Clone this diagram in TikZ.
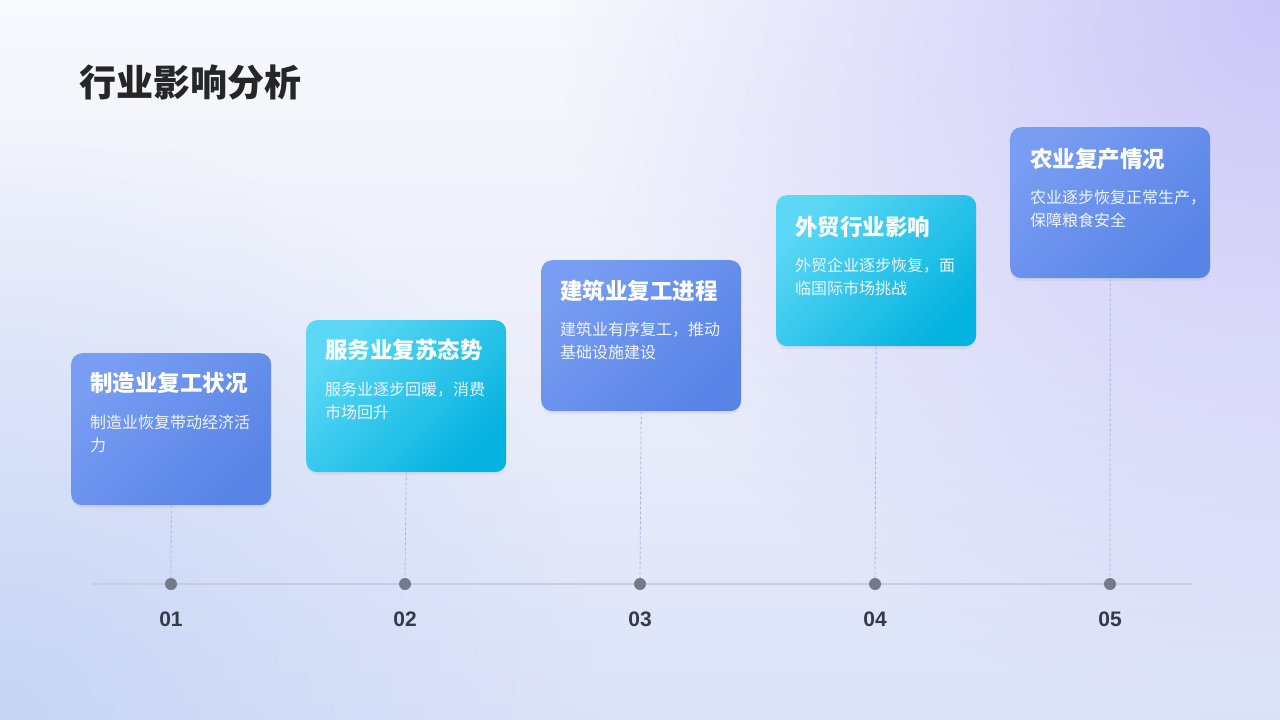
\documentclass[tikz,border=0pt]{standalone}
\usepackage{fontspec}
\setmainfont{Liberation Sans}
\newfontfamily\cjk{Noto Sans CJK SC}
\usetikzlibrary{fadings,shadows}
\definecolor{bgtop}{HTML}{F8F9FD}
\definecolor{bgbot}{HTML}{DCE3F8}
\definecolor{bgpurp}{HTML}{CAC6F8}
\definecolor{bgblue}{HTML}{C2D2F5}
\definecolor{blueA}{HTML}{789DF2}
\definecolor{blueB}{HTML}{5884E7}
\definecolor{cyanA}{HTML}{5CD8F6}
\definecolor{cyanB}{HTML}{04B3DF}
\definecolor{dotc}{HTML}{737A8C}
\definecolor{linec}{HTML}{C8CDE2}
\definecolor{dashc}{HTML}{A5B4E6}
\definecolor{titlec}{HTML}{262626}
\definecolor{numc}{HTML}{363A48}
\definecolor{descc}{HTML}{EEF3FF}
\tikzfading[name=radFade, inner color=transparent!0, outer color=transparent!100]
\tikzset{
  cardbase/.style={rounded corners=11pt, minimum width=200pt, inner sep=0pt, anchor=north west,
    drop shadow={opacity=0.10, shadow xshift=0pt, shadow yshift=-3pt}},
  bluecard/.style={cardbase, left color=blueA, right color=blueB, shading angle=45},
  cyancard/.style={cardbase, left color=cyanA, right color=cyanB, shading angle=45},
  cardtitle/.style={anchor=west, inner sep=0pt, text=white, font=\cjk\bfseries\fontsize{22.5}{26}\selectfont},
  carddesc/.style={anchor=north west, inner sep=0pt, align=left, text=descc, font=\cjk\fontsize{16}{22.5}\selectfont},
  dotnode/.style={circle, fill=dotc, minimum size=12pt, inner sep=0pt},
  numnode/.style={text=numc, font=\bfseries\fontsize{21}{24}\selectfont},
  dashline/.style={draw=dashc, line width=0.8pt, dash pattern=on 3pt off 2pt},
  tline/.style={draw=linec, line width=1.1pt}
}
\begin{document}
\begin{tikzpicture}[x=1pt,y=-1pt]
\useasboundingbox (0,0) rectangle (1280,720);
\begin{scope}
\clip (0,0) rectangle (1280,720);
\shade[top color=bgtop, bottom color=bgbot] (0,0) rectangle (1280,720);
\fill[bgpurp, path fading=radFade] (1280,0) circle (720pt);
\fill[bgblue, path fading=radFade, fill opacity=0.8] (0,720) circle (600pt);
\end{scope}

\node[anchor=west, inner sep=0pt, text=titlec, font=\cjk\bfseries\fontsize{37}{42}\selectfont] (title) at (79,82) {行业影响分析};

% timeline
\coordinate (tl) at (92,584);
\coordinate (tr) at (1192,584);
\draw[tline] (tl) -- (tr);

% cards
\node[bluecard, minimum height=152pt] (c1) at (71,353) {};
\node[cyancard, minimum height=152pt] (c2) at (306,320) {};
\node[bluecard, minimum height=151pt] (c3) at (541,260) {};
\node[cyancard, minimum height=151pt] (c4) at (776,195) {};
\node[bluecard, minimum height=151pt] (c5) at (1010,127) {};

\node[cardtitle] (t1) at (90,383) {制造业复工状况};
\node[carddesc] (p1) at (90,415) {制造业恢复带动经济活\\力};
\node[cardtitle] (t2) at (325,350) {服务业复苏态势};
\node[carddesc] (p2) at (325,382) {服务业逐步回暖，消费\\市场回升};
\node[cardtitle] (t3) at (560,291) {建筑业复工进程};
\node[carddesc] (p3) at (560,322) {建筑业有序复工，推动\\基础设施建设};
\node[cardtitle] (t4) at (795,227) {外贸行业影响};
\node[carddesc] (p4) at (795,258) {外贸企业逐步恢复，面\\临国际市场挑战};
\node[cardtitle] (t5) at (1030,159) {农业复产情况};
\node[carddesc] (p5) at (1030,190) {农业逐步恢复正常生产，\\保障粮食安全};

% dots
\node[dotnode] (d1) at (171,584) {};
\node[dotnode] (d2) at (405,584) {};
\node[dotnode] (d3) at (640,584) {};
\node[dotnode] (d4) at (875,584) {};
\node[dotnode] (d5) at (1110,584) {};

\draw[dashline] (c1.south) -- (d1.north);
\draw[dashline] (c2.south) -- (d2.north);
\draw[dashline] (c3.south) -- (d3.north);
\draw[dashline] (c4.south) -- (d4.north);
\draw[dashline] (c5.south) -- (d5.north);

\node[numnode] (n1) at (171,619) {01};
\node[numnode] (n2) at (405,619) {02};
\node[numnode] (n3) at (640,619) {03};
\node[numnode] (n4) at (875,619) {04};
\node[numnode] (n5) at (1110,619) {05};
\end{tikzpicture}
\end{document}
